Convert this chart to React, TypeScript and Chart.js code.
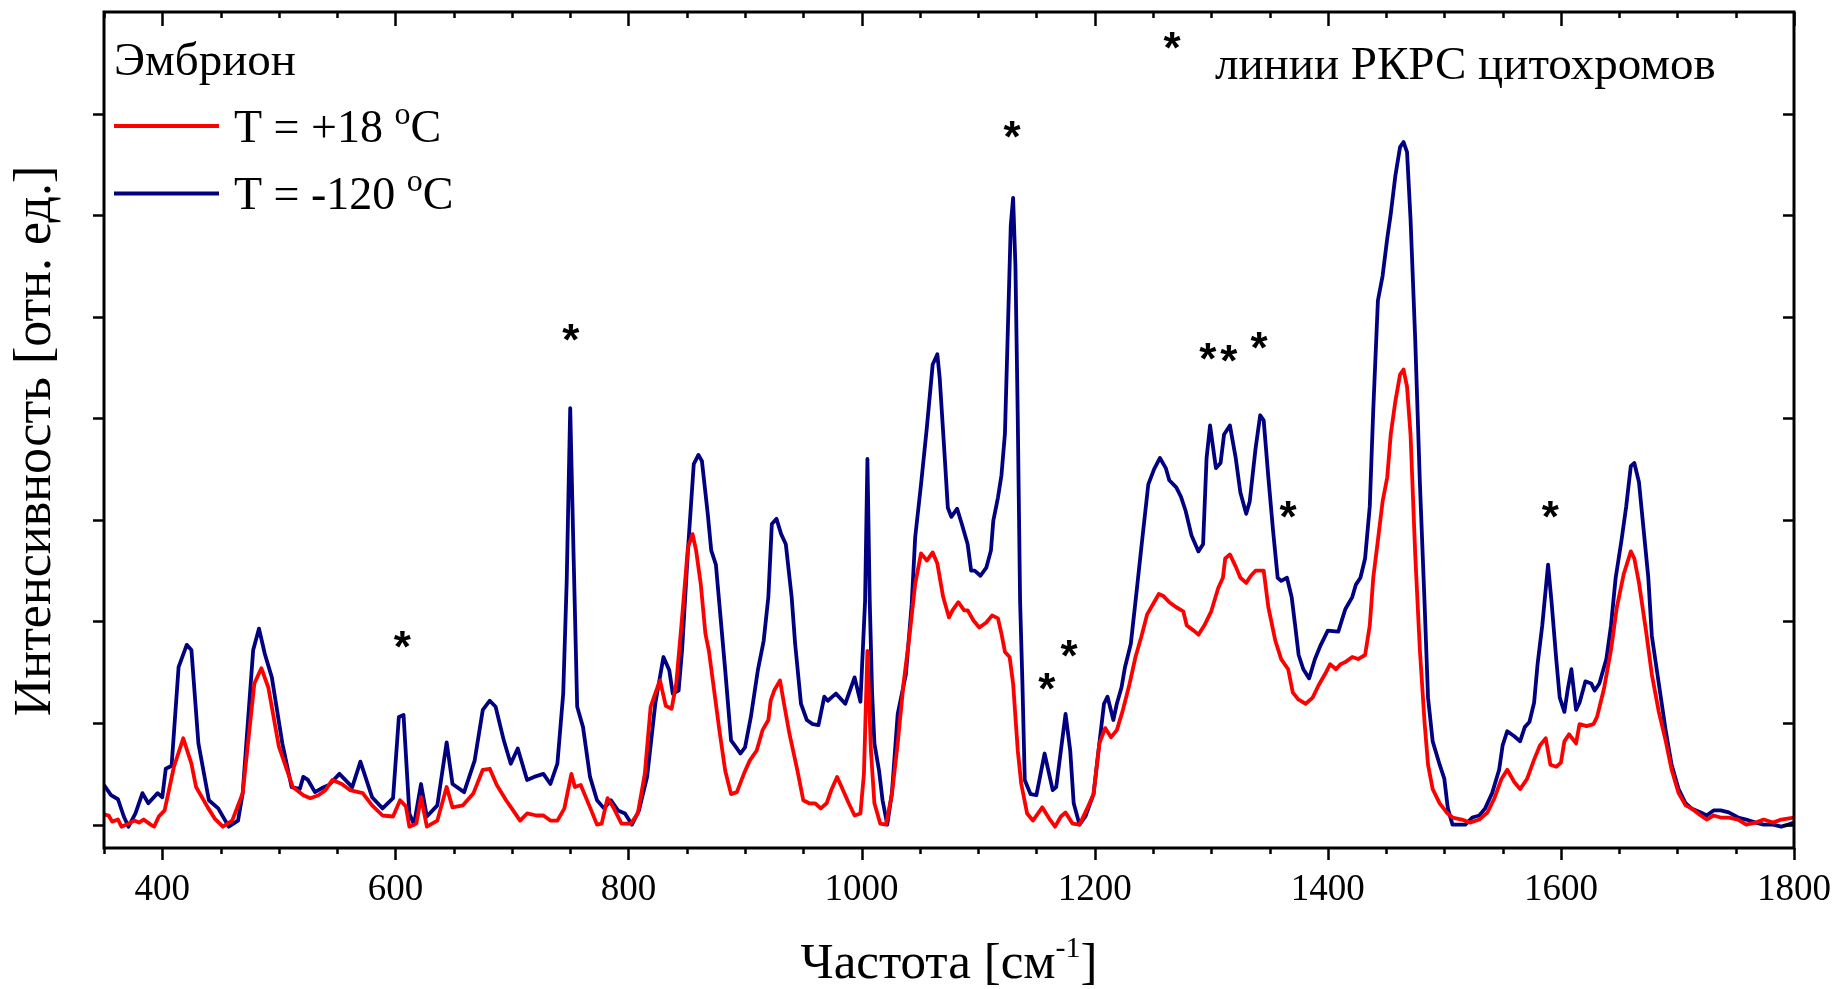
import { useEffect, useRef } from 'react';
import { Chart, registerables } from 'chart.js';

Chart.register(...registerables);

// Raman spectra of the embryo, intensity in relative units (one unit = one y tick)
const freqWarm = [
  350, 354, 357, 362, 365, 371, 376, 380, 384, 390, 393, 397, 402, 410, 418, 425, 429, 439, 445, 452,
  460, 469, 474, 479, 485, 491, 500, 512, 521, 527, 534, 540, 546, 554, 561, 572, 580, 589, 598, 604,
  609, 612, 618, 622, 627, 636, 644, 649, 658, 667, 675, 681, 687, 695, 701, 707, 713, 721, 727, 733,
  739, 745, 751, 754, 759, 767, 773, 777, 782, 787, 794, 802, 808, 814, 819, 822, 827, 832, 837, 841,
  846, 851, 855, 858, 862, 866, 869, 878, 883, 888, 893, 899, 904, 910, 915, 920, 922, 925, 930, 933,
  938, 945, 950, 955, 960, 965, 970, 974, 979, 984, 989, 994, 999, 1002, 1005, 1008, 1011, 1016, 1021, 1026,
  1031, 1036, 1041, 1046, 1051, 1056, 1061, 1065, 1070, 1075, 1078, 1083, 1088, 1091, 1096, 1101, 1107, 1112, 1117, 1120,
  1123, 1127, 1130, 1134, 1137, 1142, 1147, 1152, 1155, 1161, 1166, 1171, 1175, 1181, 1187, 1194, 1199, 1204, 1209, 1214,
  1219, 1224, 1230, 1235, 1240, 1245, 1250, 1255, 1259, 1264, 1270, 1276, 1279, 1285, 1289, 1294, 1300, 1306, 1310, 1312,
  1316, 1321, 1325, 1330, 1334, 1338, 1345, 1349, 1355, 1360, 1366, 1370, 1375, 1381, 1387, 1392, 1398, 1402, 1407, 1411,
  1415, 1421, 1426, 1432, 1436, 1439, 1443, 1447, 1451, 1454, 1458, 1462, 1465, 1468, 1471, 1475, 1479, 1483, 1486, 1490,
  1496, 1502, 1507, 1515, 1522, 1530, 1537, 1543, 1549, 1554, 1560, 1565, 1571, 1577, 1582, 1587, 1591, 1596, 1600, 1603,
  1607, 1613, 1616, 1622, 1628, 1631, 1637, 1643, 1648, 1654, 1660, 1663, 1667, 1673, 1678, 1684, 1690, 1695, 1701, 1707,
  1712, 1720, 1725, 1731, 1737, 1744, 1752, 1759, 1767, 1774, 1782, 1789, 1800,
];
const intWarm = [
  0.10, 0.09, 0.03, 0.05, -0.02, 0.01, 0.04, 0.02, 0.05, 0.00, -0.02, 0.08, 0.14, 0.57, 0.85, 0.60, 0.37, 0.17, 0.06, -0.02,
  0.04, 0.31, 0.85, 1.39, 1.54, 1.35, 0.77, 0.37, 0.29, 0.26, 0.29, 0.34, 0.44, 0.40, 0.34, 0.31, 0.19, 0.09, 0.08, 0.24,
  0.18, -0.02, 0.01, 0.27, -0.02, 0.04, 0.37, 0.17, 0.19, 0.31, 0.54, 0.55, 0.39, 0.24, 0.14, 0.04, 0.11, 0.09, 0.09, 0.04,
  0.04, 0.16, 0.50, 0.37, 0.39, 0.17, 0.00, 0.01, 0.26, 0.17, 0.01, 0.01, 0.11, 0.50, 1.16, 1.26, 1.42, 1.17, 1.14, 1.39,
  2.04, 2.73, 2.86, 2.70, 2.37, 1.88, 1.71, 0.93, 0.53, 0.30, 0.32, 0.50, 0.63, 0.73, 0.93, 1.03, 1.22, 1.32, 1.42, 1.22,
  0.90, 0.53, 0.24, 0.21, 0.21, 0.16, 0.21, 0.34, 0.47, 0.34, 0.21, 0.09, 0.11, 0.50, 1.71, 0.73, 0.21, 0.01, 0.00, 0.30,
  0.80, 1.39, 1.85, 2.37, 2.67, 2.60, 2.68, 2.57, 2.24, 2.04, 2.11, 2.19, 2.11, 2.11, 2.01, 1.94, 1.99, 2.06, 2.03, 1.88,
  1.70, 1.65, 1.39, 0.73, 0.40, 0.11, 0.04, 0.12, 0.17, 0.06, -0.02, 0.08, 0.12, 0.01, 0.00, 0.17, 0.30, 0.80, 0.95, 0.86,
  0.93, 1.12, 1.39, 1.65, 1.85, 2.07, 2.17, 2.27, 2.25, 2.19, 2.14, 2.10, 1.96, 1.91, 1.87, 1.96, 2.10, 2.33, 2.43, 2.62,
  2.66, 2.54, 2.43, 2.38, 2.45, 2.50, 2.50, 2.14, 1.81, 1.63, 1.53, 1.30, 1.23, 1.19, 1.25, 1.37, 1.49, 1.58, 1.53, 1.58,
  1.60, 1.65, 1.63, 1.67, 1.96, 2.43, 2.80, 3.18, 3.42, 3.84, 4.17, 4.43, 4.48, 4.31, 3.84, 2.66, 1.72, 1.01, 0.59, 0.35,
  0.21, 0.12, 0.07, 0.05, 0.02, 0.05, 0.12, 0.26, 0.45, 0.54, 0.42, 0.35, 0.45, 0.64, 0.78, 0.85, 0.59, 0.57, 0.61, 0.82,
  0.89, 0.80, 0.99, 0.97, 0.99, 1.06, 1.34, 1.72, 2.14, 2.47, 2.69, 2.62, 2.38, 1.91, 1.48, 1.11, 0.82, 0.54, 0.31, 0.19,
  0.16, 0.09, 0.05, 0.09, 0.07, 0.07, 0.05, 0.00, 0.02, 0.05, 0.02, 0.05, 0.07,
];

const freqCold = [
  350, 356, 362, 367, 371, 377, 383, 388, 396, 400, 403, 408, 414, 421, 425, 431, 440, 448, 457, 465,
  469, 478, 483, 488, 494, 503, 511, 518, 521, 525, 531, 537, 543, 552, 563, 570, 580, 589, 598, 603,
  607, 612, 616, 622, 627, 636, 644, 649, 659, 668, 675, 681, 686, 693, 699, 705, 713, 719, 727, 733,
  739, 744, 747, 750, 753, 756, 761, 767, 773, 779, 785, 791, 797, 803, 809, 816, 823, 830, 835, 838,
  843, 846, 851, 856, 860, 863, 868, 871, 875, 878, 883, 888, 893, 896, 900, 905, 911, 916, 920, 923,
  927, 931, 935, 940, 943, 948, 953, 958, 963, 968, 971, 975, 978, 986, 994, 999, 1003, 1005, 1007, 1009,
  1011, 1015, 1018, 1022, 1026, 1031, 1038, 1043, 1046, 1051, 1056, 1061, 1065, 1067, 1071, 1074, 1077, 1082, 1086, 1091,
  1094, 1097, 1102, 1107, 1111, 1113, 1117, 1120, 1123, 1125, 1128, 1130, 1132, 1134, 1136, 1138, 1140, 1145, 1150, 1157,
  1164, 1167, 1175, 1179, 1182, 1187, 1192, 1199, 1204, 1208, 1211, 1216, 1219, 1223, 1226, 1231, 1236, 1241, 1246, 1251,
  1256, 1261, 1264, 1270, 1274, 1278, 1283, 1289, 1293, 1296, 1299, 1304, 1308, 1311, 1316, 1321, 1325, 1330, 1333, 1338,
  1342, 1345, 1349, 1353, 1357, 1360, 1365, 1369, 1372, 1375, 1379, 1384, 1389, 1394, 1400, 1409, 1415, 1421, 1424, 1428,
  1432, 1436, 1439, 1443, 1447, 1451, 1454, 1458, 1462, 1465, 1468, 1471, 1475, 1479, 1483, 1486, 1490, 1496, 1500, 1503,
  1507, 1513, 1518, 1524, 1530, 1535, 1541, 1547, 1550, 1554, 1560, 1565, 1569, 1573, 1577, 1580, 1584, 1589, 1592, 1596,
  1599, 1603, 1606, 1609, 1613, 1616, 1621, 1626, 1629, 1633, 1639, 1643, 1647, 1652, 1656, 1660, 1663, 1667, 1671, 1675,
  1678, 1684, 1690, 1695, 1701, 1707, 1712, 1720, 1725, 1731, 1737, 1744, 1752, 1759, 1767, 1774, 1782, 1789, 1795, 1800,
];
const intCold = [
  0.39, 0.29, 0.25, 0.08, -0.02, 0.11, 0.31, 0.21, 0.31, 0.27, 0.55, 0.58, 1.55, 1.77, 1.72, 0.80, 0.24, 0.16, -0.02, 0.04,
  0.31, 1.72, 1.93, 1.68, 1.45, 0.80, 0.37, 0.35, 0.47, 0.44, 0.32, 0.36, 0.39, 0.50, 0.37, 0.62, 0.27, 0.16, 0.26, 1.06,
  1.08, 0.11, 0.00, 0.40, 0.08, 0.19, 0.81, 0.40, 0.32, 0.63, 1.13, 1.22, 1.16, 0.83, 0.60, 0.75, 0.44, 0.47, 0.50, 0.40,
  0.60, 1.29, 2.40, 4.10, 2.60, 1.16, 0.96, 0.47, 0.24, 0.16, 0.24, 0.14, 0.11, 0.00, 0.14, 0.47, 1.19, 1.65, 1.52, 1.29,
  1.32, 1.72, 2.70, 3.55, 3.64, 3.58, 3.06, 2.70, 2.56, 2.17, 1.52, 0.83, 0.75, 0.70, 0.76, 1.06, 1.52, 1.81, 2.24, 2.96,
  3.01, 2.86, 2.76, 2.24, 1.78, 1.19, 1.03, 0.99, 0.98, 1.26, 1.22, 1.26, 1.29, 1.19, 1.45, 1.21, 2.20, 3.60, 2.20, 1.30,
  0.80, 0.53, 0.24, 0.00, 0.31, 1.09, 1.48, 2.17, 2.83, 3.35, 3.91, 4.53, 4.63, 4.40, 3.68, 3.12, 3.03, 3.11, 2.96, 2.76,
  2.50, 2.50, 2.45, 2.53, 2.70, 2.99, 3.22, 3.44, 3.85, 4.67, 5.90, 6.17, 5.50, 4.00, 2.20, 1.39, 0.44, 0.30, 0.29, 0.70,
  0.34, 0.37, 1.09, 0.73, 0.21, 0.00, 0.08, 0.30, 0.80, 1.19, 1.26, 1.03, 1.19, 1.35, 1.55, 1.78, 2.30, 2.83, 3.35, 3.50,
  3.61, 3.51, 3.39, 3.32, 3.23, 3.09, 2.85, 2.69, 2.76, 3.61, 3.93, 3.51, 3.56, 3.84, 3.93, 3.61, 3.27, 3.06, 3.18, 3.70,
  4.03, 3.98, 3.42, 2.90, 2.43, 2.40, 2.43, 2.24, 1.96, 1.67, 1.53, 1.44, 1.63, 1.77, 1.91, 1.90, 2.12, 2.24, 2.36, 2.43,
  2.62, 3.13, 4.08, 5.16, 5.40, 5.77, 6.01, 6.39, 6.67, 6.72, 6.62, 5.96, 4.78, 3.37, 2.19, 1.25, 0.82, 0.59, 0.45, 0.16,
  0.00, 0.00, 0.00, 0.07, 0.09, 0.16, 0.31, 0.54, 0.78, 0.92, 0.87, 0.82, 0.96, 1.01, 1.20, 1.58, 1.96, 2.56, 2.19, 1.63,
  1.25, 1.11, 1.34, 1.53, 1.13, 1.20, 1.41, 1.39, 1.32, 1.39, 1.63, 1.96, 2.43, 2.80, 3.13, 3.53, 3.56, 3.37, 2.90, 2.43,
  1.86, 1.39, 0.92, 0.59, 0.35, 0.21, 0.16, 0.12, 0.09, 0.14, 0.14, 0.12, 0.07, 0.05, 0.02, 0.00, 0.00, -0.02, 0.00, 0.02,
];

// Labelled frequencies on the x axis
const xTickLabels = [400, 600, 800, 1000, 1200, 1400, 1600, 1800];

// Cytochrome resonance Raman lines marked with asterisks: [frequency, height]
const starFreqs = [606, 750.5, 1129, 1159, 1178, 1297, 1315, 1341, 1366, 1591];
const starHeights = [1.84, 4.86, 6.86, 1.42, 1.75, 4.67, 4.65, 4.78, 3.12, 3.12];

const seriesNames = ['T = +18 ', 'T = -120 '];
const seriesColors = ['#ff0000', '#000080'];

const SERIF = '"Liberation Serif", "Times New Roman", serif';
const STAR_FONT = 'bold 44px "Liberation Sans", Arial, sans-serif';

type Part = { text: string; size: number; rise?: number };

function partsWidth(ctx: CanvasRenderingContext2D, parts: Part[]) {
  let w = 0;
  for (const p of parts) {
    ctx.font = `${p.size}px ${SERIF}`;
    w += ctx.measureText(p.text).width;
  }
  return w;
}

function drawParts(ctx: CanvasRenderingContext2D, parts: Part[], x: number, y: number) {
  let cx = x;
  ctx.textAlign = 'left';
  ctx.textBaseline = 'alphabetic';
  for (const p of parts) {
    ctx.font = `${p.size}px ${SERIF}`;
    ctx.fillText(p.text, cx, y - (p.rise || 0));
    cx += ctx.measureText(p.text).width;
  }
}

function drawStar(ctx: CanvasRenderingContext2D, x: number, y: number) {
  ctx.font = STAR_FONT;
  ctx.textAlign = 'center';
  ctx.textBaseline = 'alphabetic';
  ctx.fillText('*', x, y + 24);
}

const frameAndLabels = {
  id: 'frameAndLabels',
  afterDraw(chart: any) {
    const { ctx, chartArea: a } = chart;
    const xs = chart.scales.x;
    const ys = chart.scales.y;
    ctx.save();
    ctx.fillStyle = '#000';
    ctx.strokeStyle = '#000';

    // frame
    ctx.lineWidth = 3;
    ctx.strokeRect(a.left, a.top, a.right - a.left, a.bottom - a.top);

    // tick marks: outward on bottom/left, inward on top/right
    ctx.lineWidth = 2.5;
    ctx.beginPath();
    for (let v = 350; v <= 1800; v += 50) {
      const px = Math.round(xs.getPixelForValue(v)) + 0.5;
      const major = v % 200 === 0;
      ctx.moveTo(px, a.bottom);
      ctx.lineTo(px, a.bottom + (major ? 12 : 6));
      ctx.moveTo(px, a.top);
      ctx.lineTo(px, a.top + (major ? 14 : 6));
    }
    for (let v = 0; v < 8; v++) {
      const py = Math.round(ys.getPixelForValue(v)) + 0.5;
      ctx.moveTo(a.left - 11, py);
      ctx.lineTo(a.left, py);
      ctx.moveTo(a.right - 11, py);
      ctx.lineTo(a.right, py);
    }
    ctx.stroke();

    // axis titles
    const xTitle: Part[] = [
      { text: 'Частота [см', size: 51 },
      { text: '-1', size: 30, rise: 21 },
      { text: ']', size: 51 },
    ];
    const cx = (a.left + a.right) / 2;
    drawParts(ctx, xTitle, cx - partsWidth(ctx, xTitle) / 2, 978);

    ctx.save();
    ctx.translate(50, 441);
    ctx.rotate(-Math.PI / 2);
    ctx.font = `52px ${SERIF}`;
    ctx.textAlign = 'center';
    ctx.textBaseline = 'alphabetic';
    ctx.fillText('Интенсивность [отн. ед.]', 0, 0);
    ctx.restore();

    // legend
    drawParts(ctx, [{ text: 'Эмбрион', size: 47 }], 114, 75);
    const rows = [126, 193.5];
    rows.forEach((ry, i) => {
      ctx.strokeStyle = seriesColors[i];
      ctx.lineWidth = 3.8;
      ctx.beginPath();
      ctx.moveTo(114, ry);
      ctx.lineTo(219, ry);
      ctx.stroke();
      drawParts(ctx, [
        { text: seriesNames[i], size: 46 },
        { text: 'o', size: 32, rise: 18 },
        { text: 'C', size: 46 },
      ], 234, ry + 15.5);
    });

    // asterisk key and marks
    drawStar(ctx, 1172, 39);
    drawParts(ctx, [{ text: 'линии РКРС цитохромов', size: 47 }], 1215, 79);
    starFreqs.forEach((f, i) => {
      drawStar(ctx, xs.getPixelForValue(f), ys.getPixelForValue(starHeights[i]));
    });

    ctx.restore();
  },
};

export default function App() {
  const canvasRef = useRef<HTMLCanvasElement>(null);

  useEffect(() => {
    document.body.style.margin = '0';
    const canvas = canvasRef.current;
    if (!canvas) return;
    const chart = new Chart(canvas, {
      type: 'line',
      data: {
        datasets: [
          {
            label: 'T = +18 °C',
            data: freqWarm.map((f, i) => ({ x: f, y: intWarm[i] })),
            borderColor: seriesColors[0],
            borderWidth: 3.8,
            pointRadius: 0,
            tension: 0,
            borderJoinStyle: 'round',
          },
          {
            label: 'T = -120 °C',
            data: freqCold.map((f, i) => ({ x: f, y: intCold[i] })),
            borderColor: seriesColors[1],
            borderWidth: 3.8,
            pointRadius: 0,
            tension: 0,
            borderJoinStyle: 'round',
          },
        ],
      },
      options: {
        responsive: false,
        animation: false,
        devicePixelRatio: 1,
        layout: { padding: { top: 12, right: 45, left: 0, bottom: 0 } },
        plugins: {
          legend: { display: false },
          tooltip: { enabled: false },
        },
        scales: {
          x: {
            type: 'linear',
            min: 350,
            max: 1800,
            afterFit: (s: any) => {
              s.height = 141;
            },
            ticks: {
              stepSize: 50,
              autoSkip: false,
              maxRotation: 0,
              minRotation: 0,
              padding: 0,
              color: '#000',
              font: { family: SERIF, size: 37 },
              callback: (v: any) => (xTickLabels.includes(Number(v)) ? String(v) : ''),
            },
            grid: { display: false, drawTicks: true, tickLength: 20 },
            border: { display: false },
          },
          y: {
            min: -0.23,
            max: 8,
            afterFit: (s: any) => {
              s.width = 104;
            },
            ticks: { display: false, stepSize: 1 },
            grid: { display: false, drawTicks: false },
            border: { display: false },
          },
        },
      },
      plugins: [frameAndLabels],
    });
    return () => chart.destroy();
  }, []);

  return (
    <div style={{ width: 1839, height: 989, background: '#fff' }}>
      <canvas ref={canvasRef} width={1839} height={989} style={{ display: 'block' }} />
    </div>
  );
}
